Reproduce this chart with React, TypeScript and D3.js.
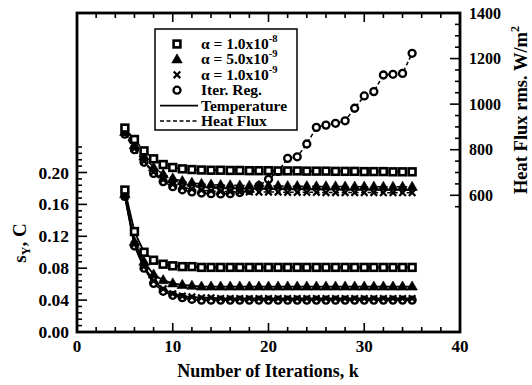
import React from "react";
import * as d3 from "d3";

const iterations = [5,6,7,8,9,10,11,12,13,14,15,16,17,18,19,20,21,22,23,24,25,26,27,28,29,30,31,32,33,34,35];

// Temperature s_Y (C), left axis
const tempA1e8 = [0.178,0.126,0.100,0.090,0.085,0.083,0.082,0.082,0.081,0.081,0.081,0.081,0.081,0.081,0.081,0.081,0.081,0.081,0.081,0.081,0.081,0.081,0.081,0.081,0.081,0.081,0.081,0.081,0.081,0.081,0.081];
const tempA5e9 = [0.173,0.113,0.088,0.072,0.065,0.061,0.059,0.058,0.057,0.057,0.057,0.057,0.057,0.057,0.057,0.057,0.057,0.057,0.057,0.057,0.057,0.057,0.057,0.057,0.057,0.057,0.057,0.057,0.057,0.057,0.057];
const tempA1e9 = [0.170,0.110,0.082,0.064,0.054,0.048,0.045,0.044,0.043,0.043,0.042,0.042,0.042,0.042,0.042,0.042,0.042,0.042,0.042,0.042,0.042,0.042,0.042,0.042,0.042,0.042,0.042,0.042,0.042,0.042,0.042];
const tempIter = [0.170,0.108,0.080,0.061,0.051,0.046,0.043,0.041,0.040,0.040,0.040,0.040,0.040,0.040,0.040,0.040,0.040,0.040,0.040,0.040,0.040,0.040,0.040,0.040,0.040,0.040,0.040,0.040,0.040,0.040,0.040];

// Heat flux rms (W/m^2), right axis
const fluxA1e8 = [895,845,795,760,735,722,716,713,711,710,710,709,709,708,708,708,707,707,707,706,706,706,705,705,705,704,704,704,703,703,703];
const fluxA5e9 = [878,820,770,722,692,674,662,655,650,647,645,644,643,642,642,641,641,640,640,640,639,639,639,638,638,638,638,637,637,637,637];
const fluxA1e9 = [870,805,750,702,668,648,635,627,622,619,617,616,615,615,614,614,614,613,613,613,613,612,612,612,612,612,612,611,611,611,611];
const fluxIter = [868,800,745,696,660,638,624,615,610,607,606,607,612,622,642,670,705,762,769,825,898,908,916,927,982,1036,1055,1128,1131,1135,1223];

const xTicks = [0,10,20,30,40];
const yLeftTicks = [0.00,0.04,0.08,0.12,0.16,0.20];
const yRightTicks = [600,800,1000,1200,1400];

const FONT = "'Liberation Serif', 'DejaVu Serif', serif";

type Kind = "square" | "triangle" | "cross" | "circle";

function Marker({ kind, x, y }: { kind: Kind; x: number; y: number }) {
  if (kind === "square") {
    return <rect x={x - 3.4} y={y - 3.4} width={6.8} height={6.8} fill="#fff" stroke="#000" strokeWidth={2.6} />;
  }
  if (kind === "triangle") {
    const p = d3.symbol().type(d3.symbolTriangle).size(48)();
    return <path d={p || ""} transform={`translate(${x},${y + 0.5})`} fill="#000" stroke="#000" strokeWidth={0.6} />;
  }
  if (kind === "cross") {
    const s = 3.3;
    return (
      <g stroke="#000" strokeWidth={2.2}>
        <line x1={x - s} y1={y - s} x2={x + s} y2={y + s} />
        <line x1={x - s} y1={y + s} x2={x + s} y2={y - s} />
      </g>
    );
  }
  return <circle cx={x} cy={y} r={3.5} fill="#fff" stroke="#000" strokeWidth={2.3} />;
}

export default function App() {
  const W = 532, H = 385;
  const x0 = 77, x1 = 460, yTop = 13, yBot = 332;
  const x = d3.scaleLinear().domain([0, 40]).range([x0, x1]);
  const yL = d3.scaleLinear().domain([0, 0.4]).range([yBot, yTop]);
  const yR = d3.scaleLinear().domain([0, 1400]).range([yBot, yTop]);

  const lineL = d3.line<number>().x((_, i) => x(iterations[i])).y((d) => yL(d));
  const lineR = d3.line<number>().x((_, i) => x(iterations[i])).y((d) => yR(d));

  const tempSeries: { kind: Kind; data: number[] }[] = [
    { kind: "circle", data: tempIter },
    { kind: "cross", data: tempA1e9 },
    { kind: "triangle", data: tempA5e9 },
    { kind: "square", data: tempA1e8 },
  ];
  const fluxSeries: { kind: Kind; data: number[] }[] = [
    { kind: "circle", data: fluxIter },
    { kind: "cross", data: fluxA1e9 },
    { kind: "triangle", data: fluxA5e9 },
    { kind: "square", data: fluxA1e8 },
  ];

  const xMinor = d3.range(0, 40.001, 2);
  const yLMinor = d3.range(0, 0.2321, 0.008);
  const yRMinor = d3.range(550, 1400.1, 50);

  const legendRows: { kind: Kind; mant: string; exp: string }[] = [
    { kind: "square", mant: "α = 1.0x10", exp: "-8" },
    { kind: "triangle", mant: "α = 5.0x10", exp: "-9" },
    { kind: "cross", mant: "α = 1.0x10", exp: "-9" },
  ];
  const lgX = 155, lgY = 29, rowH = 15.4;

  return (
    <svg width={W} height={H} style={{ position: "absolute", left: 0, top: 0, background: "#fff" }} fontFamily={FONT} fontWeight="bold">
      <rect x={0} y={0} width={W} height={H} fill="#fff" />

      {/* heat flux (dashed) */}
      {fluxSeries.map((s, si) => (
        <g key={"f" + si}>
          <path d={lineR(s.data) || ""} fill="none" stroke="#000" strokeWidth={1.5} strokeDasharray="4,2.5" />
          {s.data.map((v, i) => (
            <Marker key={i} kind={s.kind} x={x(iterations[i])} y={yR(v)} />
          ))}
        </g>
      ))}

      {/* temperature (solid) */}
      {tempSeries.map((s, si) => (
        <g key={"t" + si}>
          <path d={lineL(s.data) || ""} fill="none" stroke="#000" strokeWidth={1.8} />
          {s.data.map((v, i) => (
            <Marker key={i} kind={s.kind} x={x(iterations[i])} y={yL(v)} />
          ))}
        </g>
      ))}

      {/* frame */}
      <rect x={x0} y={yTop} width={x1 - x0} height={yBot - yTop} fill="none" stroke="#000" strokeWidth={2.8} />

      {/* bottom & top ticks */}
      {xMinor.map((t, i) => {
        const major = Math.abs(t % 10) < 1e-6;
        const len = major ? 9 : 5;
        return (
          <g key={"xt" + i} stroke="#000" strokeWidth={1.6}>
            <line x1={x(t)} x2={x(t)} y1={yBot} y2={yBot - len} />
            <line x1={x(t)} x2={x(t)} y1={yTop} y2={yTop + len} />
          </g>
        );
      })}
      {xTicks.map((t) => (
        <text key={"xl" + t} x={x(t)} y={352} fontSize={17} textAnchor="middle">{t}</text>
      ))}

      {/* left ticks */}
      {yLMinor.map((t, i) => {
        const major = Math.abs(t / 0.04 - Math.round(t / 0.04)) < 1e-6;
        const len = major ? 10 : 5;
        return <line key={"yl" + i} x1={x0} x2={x0 + len} y1={yL(t)} y2={yL(t)} stroke="#000" strokeWidth={1.6} />;
      })}
      {yLeftTicks.map((t) => (
        <text key={"yll" + t} x={69} y={yL(t) + 6} fontSize={17.5} textAnchor="end">{t.toFixed(2)}</text>
      ))}

      {/* right ticks */}
      {yRMinor.map((t, i) => {
        const major = t % 200 === 0;
        const len = major ? 10 : 5;
        return <line key={"yr" + i} x1={x1} x2={x1 - len} y1={yR(t)} y2={yR(t)} stroke="#000" strokeWidth={1.6} />;
      })}
      {yRightTicks.map((t) => (
        <text key={"yrl" + t} x={469} y={yR(t) + 5.5} fontSize={16} textAnchor="start">{t}</text>
      ))}

      {/* axis titles */}
      <text x={268} y={377} fontSize={18} textAnchor="middle">Number of Iterations, k</text>
      <text transform={`translate(26,243) rotate(-90)`} fontSize={19} textAnchor="middle">
        s<tspan fontSize={12} dy={4}>Y</tspan><tspan dy={-4}>, C</tspan>
      </text>
      <text transform={`translate(527,110) rotate(-90)`} fontSize={18.5} textAnchor="middle">
        Heat Flux rms. W/m<tspan fontSize={12} dy={-8}>2</tspan>
      </text>

      {/* legend */}
      <rect x={lgX} y={lgY} width={142} height={101} fill="#fff" stroke="#000" strokeWidth={1.5} />
      {legendRows.map((r, i) => (
        <g key={"lg" + i}>
          <Marker kind={r.kind} x={177} y={lgY + 15 + i * rowH} />
          <text x={201} y={lgY + 20 + i * rowH} fontSize={15.5}>
            {r.mant}<tspan fontSize={10.5} dy={-7}>{r.exp}</tspan>
          </text>
        </g>
      ))}
      <Marker kind="circle" x={177} y={lgY + 15 + 3 * rowH} />
      <text x={201} y={lgY + 20 + 3 * rowH} fontSize={15.5}>Iter. Reg.</text>
      <line x1={160} x2={198} y1={lgY + 15 + 4 * rowH} y2={lgY + 15 + 4 * rowH} stroke="#000" strokeWidth={1.8} />
      <text x={201} y={lgY + 20 + 4 * rowH} fontSize={15.5}>Temperature</text>
      <line x1={160} x2={198} y1={lgY + 15 + 5 * rowH} y2={lgY + 15 + 5 * rowH} stroke="#000" strokeWidth={1.5} strokeDasharray="4,2.5" />
      <text x={201} y={lgY + 20 + 5 * rowH} fontSize={15.5}>Heat Flux</text>
    </svg>
  );
}
